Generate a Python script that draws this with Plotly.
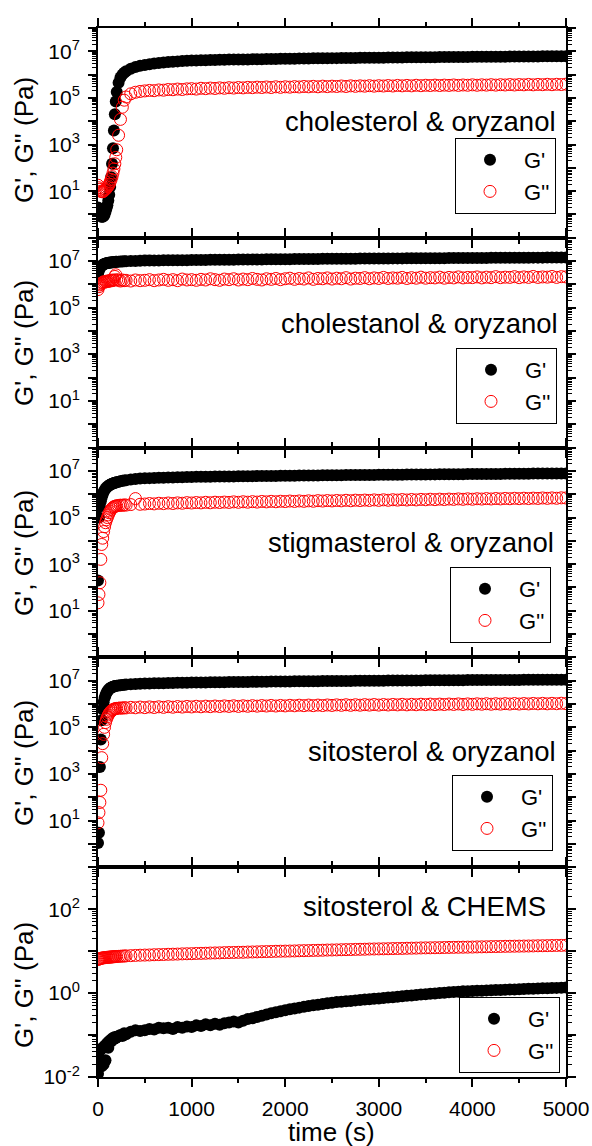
import plotly.graph_objects as go
from plotly.subplots import make_subplots

# ---------------- data ----------------
time_s = [0, 10, 20, 30, 40, 50, 60, 70, 80, 90, 100, 110, 120, 130, 140, 150, 160, 170, 180, 190,
          200, 220, 240, 260, 280, 300, 350, 400, 450,
          500, 550, 600, 650, 700, 750, 800, 850, 900, 950, 1000,
          1050, 1100, 1150, 1200, 1250, 1300, 1350, 1400, 1450, 1500,
          1550, 1600, 1650, 1700, 1750, 1800, 1850, 1900, 1950, 2000,
          2050, 2100, 2150, 2200, 2250, 2300, 2350, 2400, 2450, 2500,
          2550, 2600, 2650, 2700, 2750, 2800, 2850, 2900, 2950, 3000,
          3050, 3100, 3150, 3200, 3250, 3300, 3350, 3400, 3450, 3500,
          3550, 3600, 3650, 3700, 3750, 3800, 3850, 3900, 3950, 4000,
          4050, 4100, 4150, 4200, 4250, 4300, 4350, 4400, 4450, 4500,
          4550, 4600, 4650, 4700, 4750, 4800, 4850, 4900, 4950, 5000]

panel_labels = ["cholesterol & oryzanol", "cholestanol & oryzanol", "stigmasterol & oryzanol",
                "sitosterol & oryzanol", "sitosterol & CHEMS"]
series_names = ["G'", "G''"]

# cholesterol & oryzanol
chol_Gp = [2.0, 1.3, 1.0, 0.9, 0.8, 0.8, 0.85, 1.0, 1.3, 1.8, 2.5, 4, 7, 15, 40, 150, 700, 4000, 2e4, 7e4,
           1.8e5, 4.5e5, 7.5e5, 1.0e6, 1.2e6, 1.4e6, 1.8e6, 2.1e6, 2.4e6,
           2.6e6, 2.8e6, 3.0e6, 3.15e6, 3.3e6, 3.45e6, 3.6e6, 3.7e6, 3.8e6, 3.9e6, 4.0e6,
           4.05e6, 4.1e6, 4.15e6, 4.2e6, 4.25e6, 4.3e6, 4.35e6, 4.4e6, 4.4e6, 4.45e6,
           4.5e6, 4.5e6, 4.55e6, 4.6e6, 4.6e6, 4.65e6, 4.7e6, 4.7e6, 4.75e6, 4.8e6,
           4.8e6, 4.85e6, 4.9e6, 4.9e6, 4.95e6, 5.0e6, 5.0e6, 5.05e6, 5.05e6, 5.1e6,
           5.1e6, 5.15e6, 5.15e6, 5.2e6, 5.2e6, 5.25e6, 5.25e6, 5.3e6, 5.3e6, 5.35e6,
           5.35e6, 5.4e6, 5.4e6, 5.45e6, 5.45e6, 5.5e6, 5.5e6, 5.55e6, 5.55e6, 5.6e6,
           5.6e6, 5.6e6, 5.65e6, 5.65e6, 5.7e6, 5.7e6, 5.7e6, 5.75e6, 5.75e6, 5.8e6,
           5.8e6, 5.8e6, 5.85e6, 5.85e6, 5.9e6, 5.9e6, 5.9e6, 5.95e6, 5.95e6, 6.0e6,
           6.0e6, 6.0e6, 6.05e6, 6.05e6, 6.1e6, 6.1e6, 6.1e6, 6.15e6, 6.15e6, 6.2e6]
chol_Gpp = [18, 14, 12, 10, 9.5, 9.5, 10, 11, 12, 13, 15, 17, 20, 25, 32, 42, 60, 90, 150, 280,
            600, 2500, 1.2e4, 4e4, 8e4, 1.1e5, 1.5e5, 1.75e5, 1.9e5,
            2.0e5, 2.1e5, 2.05e5, 2.2e5, 2.15e5, 2.3e5, 2.25e5, 2.4e5, 2.3e5, 2.45e5, 2.5e5,
            2.4e5, 2.6e5, 2.5e5, 2.65e5, 2.55e5, 2.7e5, 2.6e5, 2.75e5, 2.65e5, 2.8e5,
            2.7e5, 2.85e5, 2.75e5, 2.9e5, 2.8e5, 2.95e5, 2.8e5, 3.0e5, 2.85e5, 3.0e5,
            2.9e5, 3.05e5, 2.95e5, 3.1e5, 3.0e5, 3.15e5, 3.0e5, 3.2e5, 3.05e5, 3.2e5,
            3.1e5, 3.25e5, 3.1e5, 3.3e5, 3.15e5, 3.3e5, 3.2e5, 3.35e5, 3.2e5, 3.35e5,
            3.25e5, 3.4e5, 3.25e5, 3.45e5, 3.3e5, 3.45e5, 3.3e5, 3.5e5, 3.35e5, 3.5e5,
            3.4e5, 3.55e5, 3.4e5, 3.55e5, 3.45e5, 3.6e5, 3.45e5, 3.6e5, 3.5e5, 3.65e5,
            3.5e5, 3.65e5, 3.55e5, 3.7e5, 3.55e5, 3.7e5, 3.6e5, 3.75e5, 3.6e5, 3.75e5,
            3.65e5, 3.8e5, 3.65e5, 3.8e5, 3.7e5, 3.85e5, 3.7e5, 3.85e5, 3.75e5, 3.9e5]

# cholestanol & oryzanol
cholan_Gp = [2.8e6, 4.0e6, 5.0e6, 5.8e6, 6.4e6, 6.9e6, 7.3e6, 7.6e6, 7.9e6, 8.1e6, 8.3e6, 8.5e6, 8.6e6, 8.7e6,
             8.8e6, 8.9e6, 9.0e6, 9.1e6, 9.2e6, 9.3e6, 9.4e6, 9.5e6, 9.6e6, 9.7e6, 9.8e6, 9.9e6, 1.0e7, 1.02e7, 1.04e7,
             1.05e7, 1.06e7, 1.07e7, 1.07e7, 1.08e7, 1.08e7, 1.09e7, 1.09e7, 1.1e7, 1.1e7, 1.11e7,
             1.11e7, 1.12e7, 1.12e7, 1.13e7, 1.13e7, 1.14e7, 1.14e7, 1.15e7, 1.15e7, 1.16e7,
             1.16e7, 1.17e7, 1.17e7, 1.18e7, 1.18e7, 1.19e7, 1.19e7, 1.2e7, 1.2e7, 1.21e7,
             1.21e7, 1.22e7, 1.22e7, 1.23e7, 1.23e7, 1.24e7, 1.24e7, 1.25e7, 1.25e7, 1.25e7,
             1.26e7, 1.26e7, 1.27e7, 1.27e7, 1.27e7, 1.28e7, 1.28e7, 1.29e7, 1.29e7, 1.29e7,
             1.3e7, 1.3e7, 1.31e7, 1.31e7, 1.31e7, 1.32e7, 1.32e7, 1.32e7, 1.33e7, 1.33e7,
             1.33e7, 1.34e7, 1.34e7, 1.34e7, 1.35e7, 1.35e7, 1.35e7, 1.36e7, 1.36e7, 1.36e7,
             1.37e7, 1.37e7, 1.37e7, 1.38e7, 1.38e7, 1.38e7, 1.39e7, 1.39e7, 1.39e7, 1.4e7,
             1.4e7, 1.4e7, 1.41e7, 1.41e7, 1.41e7, 1.42e7, 1.42e7, 1.42e7, 1.43e7, 1.43e7]
cholan_Gpp = [6e5, 8e5, 9.5e5, 1.05e6, 1.15e6, 1.2e6, 1.3e6, 1.25e6, 1.35e6, 1.3e6, 1.4e6, 1.35e6, 1.45e6, 1.4e6,
              1.5e6, 1.45e6, 1.55e6, 1.5e6, 2.2e6, 2.6e6, 1.6e6, 1.5e6, 1.4e6, 1.55e6, 1.45e6, 1.5e6, 1.4e6, 1.55e6, 1.45e6,
              1.5e6, 1.6e6, 1.45e6, 1.55e6, 1.65e6, 1.5e6, 1.6e6, 1.45e6, 1.7e6, 1.55e6, 1.6e6,
              1.5e6, 1.65e6, 1.55e6, 1.75e6, 1.6e6, 1.5e6, 1.7e6, 1.6e6, 1.75e6, 1.55e6,
              1.7e6, 1.6e6, 1.8e6, 1.65e6, 1.55e6, 1.75e6, 1.65e6, 1.8e6, 1.6e6, 1.75e6,
              1.85e6, 1.65e6, 1.8e6, 1.7e6, 1.9e6, 1.65e6, 1.8e6, 1.75e6, 1.9e6, 1.7e6,
              1.85e6, 1.75e6, 1.95e6, 1.7e6, 1.85e6, 1.8e6, 1.95e6, 1.75e6, 1.9e6, 1.8e6,
              2.0e6, 1.8e6, 1.9e6, 1.85e6, 2.0e6, 1.8e6, 1.95e6, 1.85e6, 2.05e6, 1.85e6,
              1.95e6, 1.9e6, 2.05e6, 1.85e6, 2.0e6, 1.9e6, 2.1e6, 1.9e6, 2.0e6, 1.95e6,
              2.1e6, 1.9e6, 2.05e6, 1.95e6, 2.15e6, 1.95e6, 2.05e6, 2.0e6, 2.15e6, 1.95e6,
              2.1e6, 2.0e6, 2.2e6, 2.0e6, 2.1e6, 2.05e6, 2.2e6, 2.0e6, 2.15e6, 2.1e6]

# stigmasterol & oryzanol
stig_Gp = [200, 1e5, 3e5, 5e5, 7.5e5, 1.0e6, 1.25e6, 1.5e6, 1.7e6, 1.9e6, 2.1e6, 2.25e6, 2.4e6, 2.55e6,
           2.7e6, 2.8e6, 2.9e6, 3.0e6, 3.1e6, 3.2e6, 3.3e6, 3.45e6, 3.6e6, 3.75e6, 3.9e6, 4.0e6, 4.3e6, 4.5e6, 4.7e6,
           4.8e6, 4.9e6, 5.0e6, 5.05e6, 5.1e6, 5.2e6, 5.25e6, 5.3e6, 5.4e6, 5.45e6, 5.5e6,
           5.55e6, 5.6e6, 5.6e6, 5.65e6, 5.7e6, 5.7e6, 5.75e6, 5.8e6, 5.8e6, 5.85e6,
           5.9e6, 5.9e6, 5.95e6, 6.0e6, 6.0e6, 6.05e6, 6.1e6, 6.1e6, 6.15e6, 6.2e6,
           6.2e6, 6.25e6, 6.3e6, 6.3e6, 6.35e6, 6.35e6, 6.4e6, 6.45e6, 6.45e6, 6.5e6,
           6.5e6, 6.55e6, 6.6e6, 6.6e6, 6.65e6, 6.65e6, 6.7e6, 6.7e6, 6.75e6, 6.8e6,
           6.8e6, 6.85e6, 6.85e6, 6.9e6, 6.9e6, 6.95e6, 7.0e6, 7.0e6, 7.05e6, 7.05e6,
           7.1e6, 7.1e6, 7.15e6, 7.15e6, 7.2e6, 7.2e6, 7.25e6, 7.25e6, 7.3e6, 7.3e6,
           7.35e6, 7.35e6, 7.4e6, 7.4e6, 7.45e6, 7.45e6, 7.5e6, 7.5e6, 7.55e6, 7.55e6,
           7.6e6, 7.6e6, 7.65e6, 7.65e6, 7.7e6, 7.7e6, 7.75e6, 7.75e6, 7.8e6, 7.8e6]
stig_Gpp = [22, 50, 160, 1600, 7000, 1.3e4, 2.5e4, 4e4, 6e4, 8e4, 1.0e5, 1.3e5, 1.6e5, 1.9e5,
            2.2e5, 2.5e5, 2.7e5, 2.9e5, 3.0e5, 3.1e5, 3.2e5, 3.3e5, 3.4e5, 3.3e5, 3.5e5, 3.4e5, 3.6e5, 6.5e5, 3.7e5,
            3.8e5, 4.0e5, 3.85e5, 4.1e5, 3.95e5, 4.2e5, 4.0e5, 4.25e5, 4.1e5, 4.35e5, 4.2e5,
            4.4e5, 4.25e5, 4.5e5, 4.3e5, 4.55e5, 4.4e5, 4.6e5, 4.45e5, 4.7e5, 4.5e5,
            4.75e5, 4.55e5, 4.8e5, 4.6e5, 4.9e5, 4.7e5, 4.95e5, 4.75e5, 5.0e5, 4.85e5,
            5.1e5, 4.9e5, 5.15e5, 4.95e5, 5.2e5, 5.0e5, 5.3e5, 5.1e5, 5.35e5, 5.15e5,
            5.4e5, 5.2e5, 5.5e5, 5.25e5, 5.55e5, 5.35e5, 5.6e5, 5.4e5, 5.7e5, 5.45e5,
            5.75e5, 5.5e5, 5.8e5, 5.6e5, 5.9e5, 5.65e5, 5.95e5, 5.7e5, 6.0e5, 5.8e5,
            6.1e5, 5.85e5, 6.15e5, 5.9e5, 6.2e5, 6.0e5, 6.3e5, 6.05e5, 6.35e5, 6.1e5,
            6.4e5, 6.2e5, 6.5e5, 6.25e5, 6.55e5, 6.3e5, 6.6e5, 6.4e5, 6.7e5, 6.45e5,
            6.75e5, 6.5e5, 6.8e5, 6.6e5, 6.9e5, 6.65e5, 6.95e5, 6.7e5, 7.0e5, 6.9e5]

# sitosterol & oryzanol
sito_Gp = [1.1, 3, 2000, 3e4, 2e5, 6e5, 1.2e6, 1.8e6, 2.4e6, 3.0e6, 3.5e6, 4.0e6, 4.4e6, 4.8e6,
           5.1e6, 5.3e6, 5.5e6, 5.7e6, 5.9e6, 6.0e6, 6.15e6, 6.3e6, 6.45e6, 6.6e6, 6.7e6, 6.8e6, 7.0e6, 7.2e6, 7.35e6,
           7.5e6, 7.6e6, 7.7e6, 7.8e6, 7.85e6, 7.9e6, 8.0e6, 8.1e6, 8.15e6, 8.2e6, 8.3e6,
           8.35e6, 8.4e6, 8.45e6, 8.5e6, 8.55e6, 8.6e6, 8.65e6, 8.7e6, 8.75e6, 8.8e6,
           8.85e6, 8.9e6, 8.95e6, 9.0e6, 9.05e6, 9.1e6, 9.15e6, 9.2e6, 9.25e6, 9.3e6,
           9.35e6, 9.4e6, 9.4e6, 9.45e6, 9.5e6, 9.55e6, 9.55e6, 9.6e6, 9.65e6, 9.7e6,
           9.7e6, 9.75e6, 9.8e6, 9.8e6, 9.85e6, 9.9e6, 9.9e6, 9.95e6, 1.0e7, 1.0e7,
           1.005e7, 1.01e7, 1.01e7, 1.015e7, 1.02e7, 1.02e7, 1.025e7, 1.03e7, 1.03e7, 1.035e7,
           1.035e7, 1.04e7, 1.04e7, 1.045e7, 1.05e7, 1.05e7, 1.055e7, 1.055e7, 1.06e7, 1.06e7,
           1.065e7, 1.065e7, 1.07e7, 1.07e7, 1.075e7, 1.075e7, 1.08e7, 1.08e7, 1.085e7, 1.085e7,
           1.09e7, 1.09e7, 1.095e7, 1.095e7, 1.1e7, 1.1e7, 1.105e7, 1.105e7, 1.11e7, 1.11e7]
sito_Gpp = [8, 22, 60, 200, 5000, 2e4, 5e4, 1.0e5, 1.6e5, 2.2e5, 2.8e5, 3.4e5, 4.0e5, 4.5e5,
            5.0e5, 5.4e5, 5.8e5, 6.0e5, 6.2e5, 6.4e5, 6.5e5, 6.6e5, 6.8e5, 6.6e5, 7.0e5, 6.8e5, 7.2e5, 6.9e5, 7.4e5,
            7.0e5, 7.5e5, 7.1e5, 7.6e5, 7.2e5, 7.7e5, 7.3e5, 7.8e5, 7.4e5, 7.9e5, 7.5e5,
            8.0e5, 7.6e5, 8.1e5, 7.7e5, 8.2e5, 7.8e5, 8.3e5, 7.9e5, 8.4e5, 7.9e5,
            8.4e5, 8.0e5, 8.5e5, 8.1e5, 8.6e5, 8.2e5, 8.7e5, 8.2e5, 8.7e5, 8.3e5,
            8.8e5, 8.4e5, 8.9e5, 8.5e5, 9.0e5, 8.5e5, 9.0e5, 8.6e5, 9.1e5, 8.7e5,
            9.2e5, 8.8e5, 9.3e5, 8.8e5, 9.3e5, 8.9e5, 9.4e5, 9.0e5, 9.5e5, 9.0e5,
            9.5e5, 9.1e5, 9.6e5, 9.2e5, 9.7e5, 9.2e5, 9.7e5, 9.3e5, 9.8e5, 9.4e5,
            9.9e5, 9.4e5, 9.9e5, 9.5e5, 1.0e6, 9.6e5, 1.01e6, 9.6e5, 1.01e6, 9.7e5,
            1.02e6, 9.8e5, 1.03e6, 9.8e5, 1.03e6, 9.9e5, 1.04e6, 1.0e6, 1.05e6, 1.0e6,
            1.05e6, 1.01e6, 1.06e6, 1.02e6, 1.07e6, 1.02e6, 1.07e6, 1.03e6, 1.08e6, 1.04e6]

# sitosterol & CHEMS
chems_Gp = [0.012, 0.03, 0.02, 0.045, 0.018, 0.05, 0.02, 0.055, 0.025, 0.06, 0.065, 0.05, 0.07, 0.075,
            0.07, 0.08, 0.085, 0.08, 0.09, 0.085, 0.09, 0.095, 0.1, 0.095, 0.11, 0.105, 0.12, 0.13, 0.125,
            0.13, 0.14, 0.135, 0.15, 0.145, 0.15, 0.14, 0.155, 0.15, 0.16, 0.155,
            0.17, 0.165, 0.18, 0.17, 0.185, 0.175, 0.19, 0.2, 0.21, 0.2,
            0.22, 0.24, 0.25, 0.27, 0.29, 0.31, 0.33, 0.35, 0.37, 0.39,
            0.41, 0.43, 0.45, 0.47, 0.49, 0.51, 0.53, 0.55, 0.57, 0.59,
            0.61, 0.62, 0.64, 0.65, 0.67, 0.68, 0.7, 0.71, 0.73, 0.74,
            0.76, 0.78, 0.8, 0.82, 0.84, 0.86, 0.88, 0.9, 0.92, 0.94,
            0.96, 0.98, 1.0, 1.02, 1.04, 1.06, 1.08, 1.1, 1.11, 1.12,
            1.13, 1.14, 1.16, 1.17, 1.18, 1.19, 1.2, 1.21, 1.22, 1.24,
            1.25, 1.26, 1.27, 1.28, 1.3, 1.31, 1.32, 1.33, 1.34, 1.35]
chems_Gpp = [6.3, 6.5, 6.6, 6.7, 6.8, 6.9, 6.9, 7.0, 7.0, 7.1, 7.1, 7.15, 7.2, 7.2,
             7.25, 7.3, 7.3, 7.35, 7.4, 7.4, 7.45, 7.5, 7.55, 7.6, 7.65, 7.7, 7.8, 7.9, 8.0,
             8.05, 8.1, 8.2, 8.25, 8.3, 8.4, 8.45, 8.5, 8.6, 8.65, 8.7,
             8.8, 8.85, 8.9, 9.0, 9.05, 9.1, 9.2, 9.25, 9.3, 9.35,
             9.4, 9.5, 9.55, 9.6, 9.7, 9.75, 9.8, 9.9, 9.95, 10.0,
             10.05, 10.1, 10.2, 10.25, 10.3, 10.4, 10.45, 10.5, 10.6, 10.65,
             10.7, 10.8, 10.85, 10.9, 11.0, 11.05, 11.1, 11.2, 11.25, 11.3,
             11.35, 11.4, 11.5, 11.55, 11.6, 11.7, 11.75, 11.8, 11.9, 11.95,
             12.0, 12.05, 12.1, 12.2, 12.25, 12.3, 12.35, 12.4, 12.45, 12.5,
             12.6, 12.65, 12.7, 12.8, 12.85, 12.9, 13.0, 13.05, 13.1, 13.15,
             13.2, 13.25, 13.3, 13.4, 13.45, 13.5, 13.6, 13.65, 13.7, 13.8]

x_ticks = [0, 1000, 2000, 3000, 4000, 5000]

panels = [
    (chol_Gp, chol_Gpp),
    (cholan_Gp, cholan_Gpp),
    (stig_Gp, stig_Gpp),
    (sito_Gp, sito_Gpp),
    (chems_Gp, chems_Gpp),
]
for gp, gpp in panels:
    assert len(gp) == len(time_s) and len(gpp) == len(time_s)

# ---------------- layout constants ----------------
FONT = "Liberation Sans, Arial, sans-serif"
W, H = 592, 1146
L, R, T, B = 98, 26, 28, 69
PW, PH = W - L - R, H - T - B

def px(xp):
    return (xp - L) / PW

def py(yp):
    return 1 - (yp - T) / PH

# per panel: (log range, labelled exponents, label text right px, label text center px,
#             legend right px, legend top px, y-title center px)
cfg = [
    ((-1, 8), [1, 3, 5, 7], 558, 121, 556, 138, 140),
    ((-1, 8), [1, 3, 5, 7], 560, 323, 557, 348, 343),
    ((-1, 8), [1, 3, 5, 7], 556, 542, 551, 567, 553),
    ((-1, 8), [1, 3, 5, 7], 558, 751, 553, 775, 763),
    ((-2, 3), [-2, 0, 2], 548, 907, 560, 997, 985),
]

fig = make_subplots(rows=5, cols=1, vertical_spacing=0)

annotations = []
for i, ((gp, gpp), c) in enumerate(zip(panels, cfg)):
    r = i + 1
    (lo, hi), labelled, lab_x, lab_y, leg_x, leg_y, tit_y = c
    leg = "legend" if r == 1 else f"legend{r}"
    fig.add_trace(go.Scatter(x=time_s, y=gp, mode="markers", name=series_names[0],
                             marker=dict(symbol="circle", size=12, color="black"),
                             legend=leg), row=r, col=1)
    fig.add_trace(go.Scatter(x=time_s, y=gpp, mode="markers", name=series_names[1],
                             marker=dict(symbol="circle-open", size=12, color="red",
                                         line=dict(width=1, color="red")),
                             legend=leg), row=r, col=1)

    tickvals = [10.0 ** k for k in range(lo, hi + 1)]
    ticktext = [f"10<sup>{k}</sup>" if k in labelled else "" for k in range(lo, hi + 1)]
    minor_vals = [m * 10.0 ** k for k in range(lo, hi) for m in range(2, 10)]
    fig.update_yaxes(type="log", range=[lo, hi], tickmode="array", tickvals=tickvals, ticktext=ticktext,
                     ticks="outside", ticklen=8, tickwidth=2, tickcolor="black",
                     showline=True, linewidth=2, linecolor="black", mirror="ticks",
                     showgrid=False, zeroline=False, ticklabelstandoff=4, automargin=False,
                     tickfont=dict(family=FONT, size=21, color="black"),
                     minor=dict(tickmode="array", tickvals=minor_vals, ticks="outside",
                                ticklen=4, tickwidth=1, tickcolor="black", showgrid=False),
                     row=r, col=1)
    fig.update_xaxes(range=[0, 5000], tickmode="array", tickvals=x_ticks,
                     ticks="outside", ticklen=8, tickwidth=2, tickcolor="black",
                     showline=True, linewidth=2, linecolor="black", mirror="ticks",
                     showgrid=False, zeroline=False, showticklabels=(r == 5),
                     ticklabelstandoff=4, automargin=False,
                     tickfont=dict(family=FONT, size=21, color="black"),
                     minor=dict(tickmode="linear", tick0=0, dtick=500, ticks="outside",
                                ticklen=4, tickwidth=1.5, tickcolor="black", showgrid=False),
                     row=r, col=1)

    fig.update_layout({leg: dict(x=px(leg_x), y=py(leg_y), xanchor="right", yanchor="top",
                                 bgcolor="white", bordercolor="black", borderwidth=1,
                                 font=dict(family=FONT, size=22, color="black"),
                                 itemwidth=58, tracegroupgap=0, traceorder="normal")})

    annotations.append(dict(text=panel_labels[i], xref="paper", yref="paper",
                            x=px(lab_x), y=py(lab_y), xanchor="right", yanchor="middle",
                            showarrow=False, font=dict(family=FONT, size=27.5, color="black")))
    annotations.append(dict(text="G', G'' (Pa)", xref="paper", yref="paper",
                            x=px(24), y=py(tit_y), xanchor="center", yanchor="middle",
                            textangle=-90, showarrow=False,
                            font=dict(family=FONT, size=26, color="black")))

annotations.append(dict(text="time (s)", xref="paper", yref="paper", x=px(331), y=py(1132),
                        xanchor="center", yanchor="middle", showarrow=False,
                        font=dict(family=FONT, size=26, color="black")))

fig.update_layout(width=W, height=H, margin=dict(l=L, r=R, t=T, b=B, autoexpand=False),
                  paper_bgcolor="white", plot_bgcolor="white",
                  font=dict(family=FONT, color="black"),
                  annotations=annotations, showlegend=True)

fig.write_html("out.html", config={"displayModeBar": False},
               post_script="document.body.style.margin='0px';document.body.style.padding='0px';")
